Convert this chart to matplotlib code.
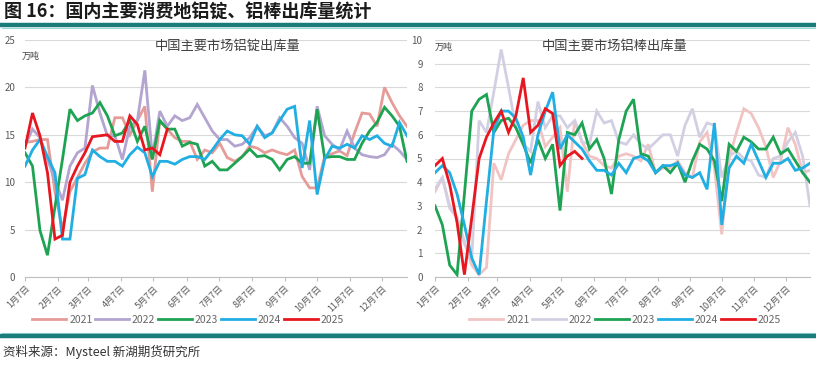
import matplotlib
matplotlib.use('Agg')
import matplotlib.pyplot as plt
from matplotlib.lines import Line2D
import numpy as np

plt.rcParams['font.family'] = ['Noto Sans CJK SC', 'DejaVu Sans']

# ---------------- data ----------------
month_tick_days = [0, 31, 59, 90, 120, 151, 181, 212, 243, 273, 304, 334]
month_labels = ['1月7日', '2月7日', '3月7日', '4月7日', '5月7日', '6月7日',
                '7月7日', '8月7日', '9月7日', '10月7日', '11月7日', '12月7日']
years = ['2021', '2022', '2023', '2024', '2025']

# 中国主要市场铝锭出库量 (万吨), weekly from 1月7日
ingot_2021 = [14.2, 14.3, 14.5, 14.5, 9.0, 5.0, 9.0, 10.5, 12.0, 13.2, 13.6, 13.6, 16.8, 16.8, 15.0, 16.5,
              18.0, 9.0, 16.5, 15.6, 14.7, 14.3, 14.3, 12.4, 13.4, 13.1, 14.1, 12.6, 12.2, 12.7, 13.8, 13.6,
              13.1, 13.4, 13.1, 12.9, 13.4, 10.6, 9.4, 9.4, 12.7, 13.0, 13.3, 12.8, 15.2, 17.3, 17.2, 15.9,
              20.0, 18.4, 17.0, 15.9]
ingot_2022 = [13.8, 15.6, 14.7, 12.4, 10.2, 8.1, 11.7, 13.1, 13.6, 20.2, 17.3, 14.9, 14.9, 12.4, 15.9, 16.5,
              21.8, 12.7, 17.5, 15.9, 17.0, 16.5, 16.8, 18.2, 16.8, 15.4, 14.5, 14.5, 13.8, 14.0, 14.7, 15.9,
              14.9, 15.2, 16.8, 15.9, 14.7, 14.1, 11.3, 18.0, 14.9, 14.0, 13.4, 15.4, 13.6, 12.9, 12.7, 12.6,
              12.9, 14.0, 13.3, 12.4]
ingot_2023 = [13.1, 11.7, 4.9, 2.3, 7.4, 12.4, 17.7, 16.5, 17.0, 17.3, 18.4, 17.0, 14.9, 15.2, 16.5, 14.3,
              15.9, 12.4, 16.5, 15.6, 15.6, 13.8, 14.2, 14.0, 11.7, 12.2, 11.3, 11.3, 12.0, 12.7, 13.5, 12.7,
              12.8, 12.4, 11.3, 12.4, 12.7, 12.0, 12.0, 17.7, 12.6, 12.7, 12.7, 12.4, 12.4, 14.1, 15.4, 16.3,
              17.9, 17.0, 15.9, 12.2]
ingot_2024 = [11.7, 13.4, 14.5, 12.7, 11.0, 4.0, 4.0, 10.4, 10.8, 13.4, 12.7, 12.2, 12.2, 11.7, 12.9, 13.7,
              13.1, 10.6, 12.2, 12.2, 11.9, 12.4, 12.7, 12.7, 12.4, 13.4, 14.5, 15.4, 15.0, 14.9, 14.0, 15.9,
              14.7, 15.2, 16.5, 17.7, 18.0, 11.5, 16.5, 8.7, 12.4, 13.8, 13.6, 14.0, 13.6, 14.9, 14.5, 14.9,
              14.1, 13.8, 16.3, 14.9]
ingot_2025 = [13.6, 17.3, 14.9, 11.0, 4.0, 4.4, 10.0, 11.7, 13.1, 14.8, 14.9, 15.0, 14.3, 14.3, 17.0, 16.1,
              13.4, 13.6, 12.9, 15.6]

# 中国主要市场铝棒出库量 (万吨)
bar_2021 = [3.6, 4.2, 3.0, 2.5, 1.5, 0.5, 0.1, 0.4, 4.8, 4.1, 5.2, 5.8, 6.4, 6.6, 6.6, 5.5, 5.9, 6.3, 3.6,
            6.6, 5.7, 5.1, 5.0, 4.7, 4.6, 5.1, 5.2, 5.1, 4.9, 5.6, 4.4, 4.6, 4.6, 4.9, 4.4, 4.2, 5.7, 6.1,
            4.6, 1.8, 5.0, 6.1, 7.1, 6.9, 6.3, 5.5, 4.2, 4.9, 6.3, 5.6, 4.4, 4.5]
bar_2022 = [3.7, 4.2, 2.9, 2.5, 1.4, 0.8, 6.6, 6.1, 7.8, 9.6, 8.0, 6.3, 5.6, 5.3, 7.4, 6.3, 6.8, 6.8, 6.3,
            6.6, 5.7, 5.6, 7.0, 6.5, 6.6, 5.7, 5.6, 6.0, 5.6, 5.4, 5.7, 6.0, 6.0, 5.1, 6.4, 7.1, 5.9, 6.5,
            6.4, 4.2, 5.1, 5.3, 5.0, 4.9, 4.3, 4.2, 5.0, 5.1, 5.7, 6.1, 5.1, 3.0]
bar_2023 = [3.0, 2.2, 0.5, 0.1, 3.5, 7.0, 7.5, 7.7, 6.1, 6.6, 6.7, 6.3, 5.6, 4.8, 5.8, 5.0, 5.6, 2.8, 6.1,
            6.0, 6.5, 5.4, 5.8, 5.0, 3.5, 5.8, 7.0, 7.5, 5.2, 5.1, 4.4, 4.7, 4.4, 4.8, 4.0, 4.9, 5.6, 5.4,
            4.9, 3.2, 5.6, 5.3, 5.9, 5.7, 5.4, 5.4, 5.9, 5.2, 5.4, 4.9, 4.4, 4.0]
bar_2024 = [4.4, 4.7, 4.4, 3.5, 2.2, 0.8, 0.1, 3.2, 6.2, 7.0, 7.0, 6.7, 5.9, 4.3, 6.0, 7.0, 7.8, 5.4, 6.0,
            5.7, 5.4, 4.9, 4.5, 4.5, 4.3, 4.8, 4.4, 5.0, 5.1, 4.9, 4.4, 4.7, 4.7, 4.8, 4.3, 4.2, 4.4, 3.7,
            6.5, 2.2, 4.6, 5.1, 4.8, 5.6, 4.9, 4.2, 4.8, 4.8, 5.0, 4.5, 4.6, 4.8]
bar_2025 = [4.7, 5.0, 3.9, 2.3, 0.1, 2.5, 5.0, 5.9, 6.5, 7.0, 6.1, 6.8, 8.4, 6.1, 6.4, 7.1, 6.9, 4.7, 5.1,
            5.3, 5.0]

ingot_series = [ingot_2021, ingot_2022, ingot_2023, ingot_2024, ingot_2025]
bar_series = [bar_2021, bar_2022, bar_2023, bar_2024, bar_2025]

colors_left = ['#E59C98', '#B4A4D0', '#1DA352', '#20AEE3', '#E8161E']
colors_right = ['#F2C3C3', '#D3CFE3', '#1DA352', '#20AEE3', '#E8161E']

# ---------------- figure ----------------
W, H = 816, 368
fig = plt.figure(figsize=(W / 100, H / 100), dpi=100)


def rect(x0, y0, x1, y1):
    return [x0 / W, 1 - y1 / H, (x1 - x0) / W, (y1 - y0) / H]


ax1 = fig.add_axes(rect(25, 40, 407, 277))
ax2 = fig.add_axes(rect(435, 40, 810, 277))


def style(ax, ymax, ystep, title, title_x, unit_xy, ypad):
    ax.set_xlim(0, 357)
    ax.set_ylim(0, ymax)
    ax.set_yticks(np.arange(0, ymax + 0.01, ystep))
    ax.set_yticklabels([f'{int(v)}' for v in np.arange(0, ymax + 0.01, ystep)])
    ax.set_xticks(month_tick_days)
    ax.set_xticklabels(month_labels, rotation=45, ha='right', va='top',
                       rotation_mode='anchor', fontsize=6.5, color='#595959')
    ax.tick_params(axis='x', length=3, width=0.8, color='#BFBFBF', pad=2)
    ax.tick_params(axis='y', length=0, pad=ypad, labelsize=7, labelcolor='#595959')
    for s in ['top', 'right', 'left']:
        ax.spines[s].set_visible(False)
    ax.spines['bottom'].set_color('#BFBFBF')
    ax.spines['bottom'].set_linewidth(0.8)
    ax.yaxis.grid(True, color='#D9D9D9', lw=0.8)
    ax.set_axisbelow(True)
    ax.text(title_x, 0.975, title, transform=ax.transAxes, ha='center', va='center',
            fontsize=9.5, color='#404040')
    ax.text(unit_xy[0], unit_xy[1], '万吨', transform=ax.transAxes, ha='left', va='center',
            fontsize=6.5, color='#404040')


style(ax1, 25, 5, '中国主要市场铝锭出库量', 0.53, (-0.008, 0.932), 7)
style(ax2, 10, 1, '中国主要市场铝棒出库量', 0.48, (0.0, 0.968), 9)

handles1, handles2 = [], []
for yr, vals, c in zip(years, ingot_series, colors_left):
    x = 7 * np.arange(len(vals))
    ln, = ax1.plot(x, vals, color=c, lw=2.0, solid_joinstyle='miter', label=yr)
    handles1.append(ln)
for yr, vals, c in zip(years, bar_series, colors_right):
    x = 7 * np.arange(len(vals))
    ln, = ax2.plot(x, vals, color=c, lw=2.0, solid_joinstyle='miter', label=yr)
    handles2.append(ln)

leg_kw = dict(loc='center', ncol=5, frameon=False, handlelength=3.3, handletextpad=0.25,
              columnspacing=0.25, fontsize=7.5, labelcolor='#666666')
fig.legend(handles1, years, bbox_to_anchor=(188 / W, 1 - 320 / H), **leg_kw)
fig.legend(handles2, years, bbox_to_anchor=(625 / W, 1 - 320 / H), **leg_kw)

# header
fig.text(4 / W, 1 - 12 / H, '图 16：国内主要消费地铝锭、铝棒出库量统计', fontsize=13,
         fontweight='bold', ha='left', va='center', color='#1a1a1a')
fig.add_artist(Line2D([2 / W, 1], [1 - 25 / H] * 2, color='#1B7D7A', lw=3.2))
fig.add_artist(Line2D([2 / W, 1], [1 - 27.8 / H] * 2, color='#9ADADA', lw=0.8))

# footer
fig.add_artist(Line2D([2 / W, 1], [1 - 333 / H] * 2, color='#9ADADA', lw=0.8))
fig.add_artist(Line2D([2 / W, 1], [1 - 336 / H] * 2, color='#1B7D7A', lw=3.2))
fig.text(3 / W, 1 - 352 / H, '资料来源：Mysteel 新湖期货研究所', fontsize=9,
         ha='left', va='center', color='#333333')

fig.savefig('out.png', dpi=100)
